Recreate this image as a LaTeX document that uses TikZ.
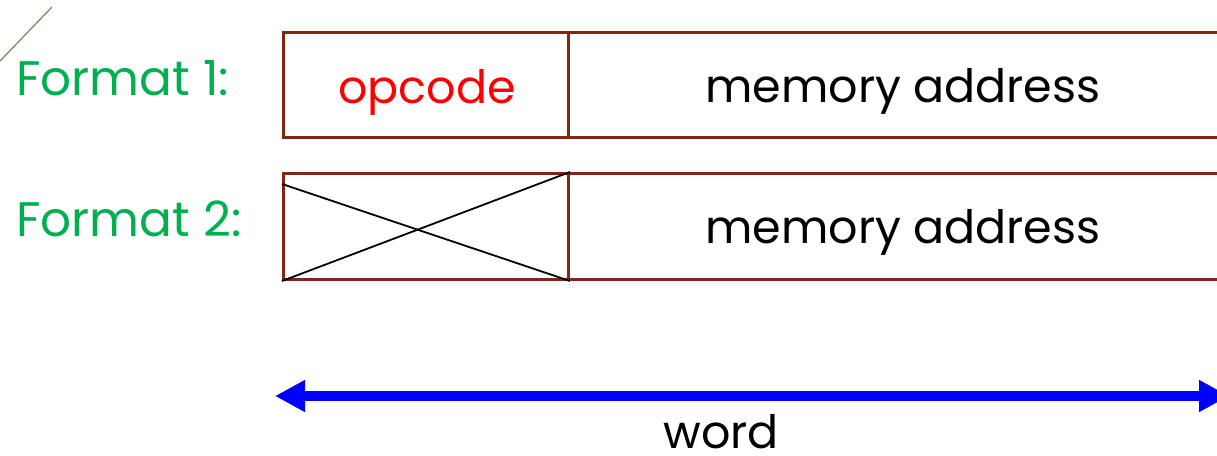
\documentclass[tikz,border=0pt]{standalone}
\usepackage{fontspec}
\setmainfont{Poppins}
\usetikzlibrary{arrows.meta}
\definecolor{boxbrown}{RGB}{128,38,18}
\definecolor{fmtgreen}{RGB}{0,176,80}
\definecolor{slash}{RGB}{135,125,95}
\tikzset{
  cell/.style={draw=boxbrown, line width=3pt, rectangle, inner sep=0pt, anchor=north west},
  label/.style={font=\fontsize{46}{46}\selectfont, inner sep=0pt},
  fmt/.style={font=\fontsize{48.5}{48}\selectfont, inner sep=0pt, text=fmtgreen, anchor=base west},
  cross/.style={black, line width=1.8pt},
  span/.style={draw=blue, line width=10pt,
    {Triangle[length=30pt,width=30pt]}-{Triangle[length=30pt,width=30pt]}}
}
\begin{document}
\begin{tikzpicture}[x=1pt,y=-1pt]
  \useasboundingbox (0,0) rectangle (1217,455);
  \begin{scope}
    \clip (0,0) rectangle (1217,455);
    % corner stroke
    \draw[slash, line width=1.2pt] (0,61) -- (52,7);
    % format labels
    \node[fmt] (f1) at (16,95) {Format 1:};
    \node[fmt] (f2) at (16,236) {Format 2:};
    % format 1 fields
    \node[cell, minimum width=285pt, minimum height=105pt] (op1) at (282,31) {};
    \node[cell, minimum width=690pt, minimum height=105pt] (ad1) at (567,31) {};
    % format 2 fields
    \node[cell, minimum width=285pt, minimum height=106pt] (op2) at (282,172) {};
    \node[cell, minimum width=690pt, minimum height=106pt] (ad2) at (567,172) {};
    % field texts
    \node[label, text=red, anchor=base] (opt) at (427,103) {opcode};
    \node[label, anchor=base] (ma1) at (903,102) {memory address};
    \node[label, anchor=base] (ma2) at (903,243) {memory address};
    % unused field crossed out
    \draw[cross] ([yshift=-12pt]op2.north west) -- (op2.south east);
    \draw[cross] (op2.south west) -- (op2.north east);
    % word width
    \coordinate (wl) at (275,396);
    \coordinate (wr) at (1229,396);
    \draw[span] (wl) -- (wr);
    \node[label, anchor=base] (wd) at (721,448) {word};
  \end{scope}
\end{tikzpicture}
\end{document}
